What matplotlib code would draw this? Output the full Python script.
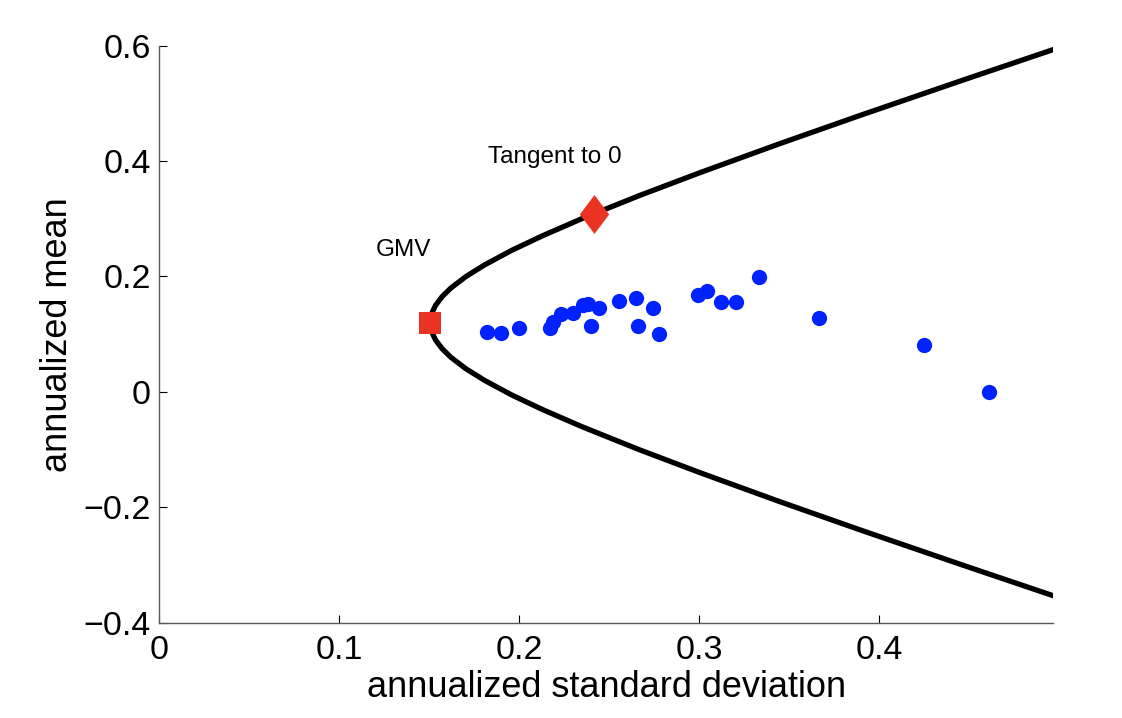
import numpy as np
import matplotlib
matplotlib.use("Agg")
import matplotlib.pyplot as plt

# frontier (std, mean), bottom branch to top branch
frontier_std = [0.4974, 0.4462, 0.3902, 0.3446, 0.3005, 0.2666, 0.2347, 0.2126,
                0.1957, 0.1808, 0.1705, 0.1621, 0.1572, 0.1536, 0.1513, 0.1506,
                0.1513, 0.1536, 0.1572, 0.1621, 0.1705, 0.1808, 0.1957, 0.2126,
                0.2347, 0.2666, 0.3005, 0.3446, 0.3902, 0.4462, 0.4974]
frontier_mean = [-0.354, -0.300, -0.240, -0.190, -0.140, -0.100, -0.060, -0.030,
                 -0.005, 0.020, 0.040, 0.060, 0.075, 0.090, 0.105, 0.120,
                 0.135, 0.150, 0.165, 0.180, 0.200, 0.220, 0.245, 0.270,
                 0.300, 0.340, 0.380, 0.430, 0.480, 0.540, 0.594]

# individual assets
asset_std = [0.1822, 0.1900, 0.2002, 0.2172, 0.2191, 0.2233, 0.2298, 0.2354,
             0.2382, 0.2443, 0.2398, 0.2556, 0.2650, 0.2741, 0.2663, 0.2779,
             0.2993, 0.3046, 0.3122, 0.3206, 0.3332, 0.3663, 0.4250, 0.4607]
asset_mean = [0.1033, 0.1016, 0.1113, 0.1113, 0.1217, 0.1345, 0.1373, 0.1506,
              0.1518, 0.1449, 0.1142, 0.1575, 0.1622, 0.1459, 0.1137, 0.1009,
              0.1679, 0.1749, 0.1553, 0.1563, 0.1986, 0.1276, 0.0818, 0.0000]

gmv = (0.1506, 0.119)
tangent = (0.2418, 0.309)

xticks = [0, 0.1, 0.2, 0.3, 0.4]
yticks = [-0.4, -0.2, 0, 0.2, 0.4, 0.6]

plt.rcParams['font.family'] = ['Liberation Sans', 'DejaVu Sans']

fig = plt.figure(figsize=(11.22, 7.18), dpi=100)
ax = fig.add_axes([0.1417, 0.1327, 0.9388 - 0.1417, 0.9364 - 0.1327])

ax.plot(frontier_std, frontier_mean, color='black', lw=3.8, solid_capstyle='butt', zorder=2)
ax.plot(asset_std, asset_mean, 'o', color='#0022ff', markersize=11, markeredgewidth=0, zorder=3)
ax.plot(gmv[0], gmv[1], 's', color='#ea3323', markersize=16.5, markeredgewidth=0, zorder=4)
diamond = [(0, 1), (0.755, 0), (0, -1), (-0.755, 0), (0, 1)]
ax.plot(tangent[0], tangent[1], marker=diamond, color='#ea3323', markersize=28,
        markeredgewidth=0, linestyle='none', zorder=4)

ax.text(0.1206, 0.246, 'GMV', fontsize=17.5, ha='left', va='center')
ax.text(0.1828, 0.407, 'Tangent to 0', fontsize=17.5, ha='left', va='center')

ax.set_xlim(0, 0.4967)
ax.set_ylim(-0.4, 0.6)
ax.set_xticks(xticks)
ax.set_xticklabels(['0', '0.1', '0.2', '0.3', '0.4'])
ax.set_yticks(yticks)
ax.set_yticklabels(['\u22120.4', '\u22120.2', '0', '0.2', '0.4', '0.6'])
ax.tick_params(direction='in', length=6, width=0.8, labelsize=24.5)
ax.tick_params(axis='x', pad=9)
ax.tick_params(axis='y', pad=6)

for side in ['top', 'right']:
    ax.spines[side].set_visible(False)
for side in ['left', 'bottom']:
    ax.spines[side].set_color('0.35')
    ax.spines[side].set_linewidth(1.0)

ax.set_xlabel('annualized standard deviation', fontsize=26, labelpad=3)
ax.set_ylabel('annualized mean', fontsize=26, labelpad=6)

fig.savefig('out.png', dpi=100)
